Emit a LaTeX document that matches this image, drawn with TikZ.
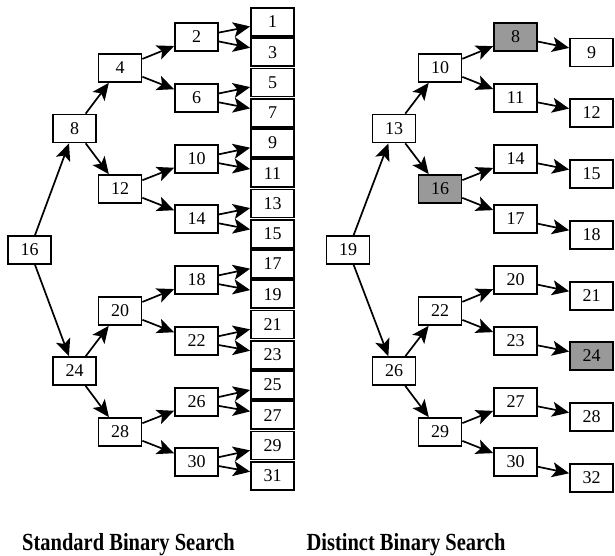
\documentclass[tikz,border=0pt]{standalone}
\usepackage{fontspec}
\setmainfont{Liberation Serif}
\usetikzlibrary{arrows.meta}

\tikzset{
  box/.style={draw, line width=1.7pt, fill=white, minimum width=43pt,
    minimum height=28pt, inner sep=0pt, font=\fontsize{18}{18}\selectfont},
  hit/.style={box, fill=black!40},
  leaf/.style={box},
  edge/.style={line width=1.7pt, -{Stealth[length=17pt,width=15pt,inset=4pt]}},
  caption/.style={anchor=base, inner sep=0pt, font=\fontsize{20.5}{20.5}\selectfont\bfseries}
}

\begin{document}
\begin{tikzpicture}[x=1pt, y=-1pt]
\useasboundingbox (0,0) rectangle (615,556);

%%% standard binary search (left)
\node[box] (l16) at (29.5,250) {16};
\node[box] (l8)  at (74.5,128.5) {8};
\node[box] (l24) at (74.5,371) {24};
\foreach \n/\y in {4/68, 12/189, 20/311, 28/432}
  \node[box] (l\n) at (120,\y) {\n};
\foreach \n/\y in {2/37, 6/98, 10/159, 14/219, 18/280, 22/341, 26/402, 30/462}
  \node[box] (l\n) at (196.5,\y) {\n};
% column of leaves
\foreach \k in {0,...,15}
{
  \pgfmathtruncatemacro{\v}{2*\k+1}
  \node[leaf] (l\v) at (272.5, 22+30.25*\k) {\v};
}

\draw[edge] (l16) -- (l8);
\draw[edge] (l16) -- (l24);
\foreach \a/\b/\c in {8/4/12, 24/20/28, 4/2/6, 12/10/14, 20/18/22, 28/26/30}
{
  \draw[edge] (l\a) -- (l\b);
  \draw[edge] (l\a) -- (l\c);
}
\foreach \a in {2, 6, 10, 14, 18, 22, 26, 30}
{
  \pgfmathtruncatemacro{\lo}{\a-1}
  \pgfmathtruncatemacro{\hi}{\a+1}
  \draw[edge] (l\a) -- (l\lo);
  \draw[edge] (l\a) -- (l\hi);
}

%%% distinct binary search (right)
\node[box] (r19) at (348,250) {19};
\node[box] (r13) at (394,128.5) {13};
\node[box] (r26) at (394,371) {26};
\node[box] (r10) at (440,68) {10};
\node[hit] (r16) at (440,189) {16};
\node[box] (r22) at (440,311) {22};
\node[box] (r29) at (440,432) {29};
\node[hit] (r8) at (515.5,37) {8};
\foreach \n/\y in {11/98, 14/159, 17/219, 20/280, 23/341, 27/402, 30/462}
  \node[box] (r\n) at (515.5,\y) {\n};
\foreach \n/\y in {9/52.5, 12/113, 15/174, 18/235, 21/296, 28/417, 32/478}
  \node[box] (r\n) at (591.5,\y) {\n};
\node[hit] (r24) at (591.5,356) {24};

\draw[edge] (r19) -- (r13);
\draw[edge] (r19) -- (r26);
\foreach \a/\b/\c in {13/10/16, 26/22/29, 10/8/11, 16/14/17, 22/20/23, 29/27/30}
{
  \draw[edge] (r\a) -- (r\b);
  \draw[edge] (r\a) -- (r\c);
}
\foreach \a/\b in {8/9, 11/12, 14/15, 17/18, 20/21, 23/24, 27/28, 30/32}
  \draw[edge] (r\a) -- (r\b);

% captions
\node[caption] (capl) at (128.5,550) {\scalebox{1}[1.2]{Standard Binary Search}};
\node[caption] (capr) at (406,550) {\scalebox{1}[1.2]{Distinct Binary Search}};
\end{tikzpicture}
\end{document}
